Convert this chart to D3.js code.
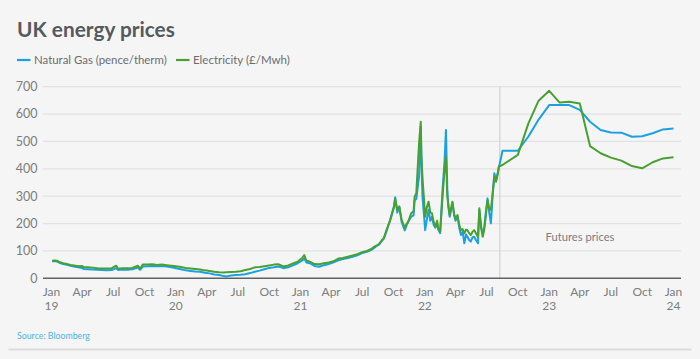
<!DOCTYPE html>
<html>
<head>
<meta charset="utf-8">
<script src="https://cdn.jsdelivr.net/npm/d3@7"></script>
<style>
  html, body { margin: 0; padding: 0; background: #f5f5f5; }
  svg { display: block; }
  text { font-family: Lato, "Open Sans", sans-serif; }
</style>
</head>
<body>
<svg id="chart" width="700" height="359"></svg>
<script>
// ---------- DATA ----------
const histDates = [
  "2019-01-03","2019-01-10","2019-01-17","2019-01-24","2019-02-04","2019-02-15","2019-02-26","2019-03-08","2019-03-20","2019-04-01",
  "2019-04-05","2019-04-18","2019-05-02","2019-05-16","2019-05-30","2019-06-13","2019-06-27","2019-07-10","2019-07-16","2019-07-29",
  "2019-08-12","2019-08-26","2019-09-12","2019-09-18","2019-09-26","2019-10-10","2019-10-24","2019-11-07","2019-11-21","2019-12-05",
  "2019-12-19","2020-01-02","2020-01-16","2020-01-30","2020-02-13","2020-02-27","2020-03-12","2020-03-26","2020-04-09","2020-04-23",
  "2020-05-07","2020-05-21","2020-05-28","2020-06-11","2020-06-25","2020-07-09","2020-07-23","2020-08-06","2020-08-20","2020-09-03",
  "2020-09-17","2020-10-01","2020-10-15","2020-10-29","2020-11-12","2020-11-26","2020-12-10","2020-12-24","2021-01-06","2021-01-12",
  "2021-01-18","2021-01-28","2021-02-11","2021-02-25","2021-03-11","2021-03-25","2021-04-08","2021-04-22","2021-05-06","2021-05-20",
  "2021-06-03","2021-06-17","2021-07-01","2021-07-15","2021-07-29","2021-08-06","2021-08-13","2021-08-20","2021-08-27","2021-09-03",
  "2021-09-10","2021-09-15","2021-09-21","2021-09-27","2021-10-02","2021-10-06","2021-10-12","2021-10-18","2021-10-25","2021-11-03",
  "2021-11-09","2021-11-13","2021-11-22","2021-11-29","2021-12-02","2021-12-07","2021-12-15","2021-12-20","2021-12-22","2021-12-25",
  "2022-01-02","2022-01-07","2022-01-12","2022-01-17","2022-01-22","2022-01-27","2022-02-01","2022-02-06","2022-02-10","2022-02-15",
  "2022-02-22","2022-02-28","2022-03-04","2022-03-08","2022-03-11","2022-03-15","2022-03-19","2022-03-23","2022-03-28","2022-04-01",
  "2022-04-07","2022-04-12","2022-04-17","2022-04-22","2022-04-27","2022-05-02","2022-05-06","2022-05-11","2022-05-16","2022-05-21",
  "2022-05-26","2022-05-31","2022-06-06","2022-06-10","2022-06-15","2022-06-20","2022-06-24","2022-06-28","2022-07-04","2022-07-09",
  "2022-07-14","2022-07-19","2022-07-24","2022-07-29","2022-08-03","2022-08-06"
];
const histGas = [
  62,63,61,57,52,49,46,43,40,38,
  34,33,32,31,30,29,30,37,30,32,
  31,33,39,31,43,44,45,44,45,43,
  40,37,33,29,27,25,24,20,18,14,
  12,8,7,10,12,13,15,19,24,28,
  33,38,40,43,37,40,47,55,65,73,
  58,55,45,42,48,52,58,66,70,74,
  79,84,92,97,104,112,118,124,135,146,
  170,189,213,240,262,296,240,262,205,175,
  195,207,225,230,285,290,371,555,420,300,
  176,215,250,210,225,195,185,200,176,165,
  323,430,542,323,260,225,250,275,230,210,
  225,185,158,170,128,160,152,140,134,150,
  152,140,128,250,190,164,180,230,292,240,
  201,300,384,359,385,402
];
const histElec = [
  64,65,64,60,55,52,49,47,44,45,
  41,40,39,37,36,36,37,46,35,37,
  37,38,46,35,50,50,51,49,50,48,
  46,44,41,38,36,34,32,29,27,24,
  22,21,22,23,24,26,30,34,40,41,
  44,47,50,51,43,47,54,61,74,85,
  65,61,52,51,55,58,62,72,74,79,
  83,88,95,100,108,116,120,126,138,148,
  175,192,210,236,258,290,250,262,213,185,
  200,205,238,245,298,311,493,572,450,371,
  225,260,280,240,238,205,189,210,180,170,
  298,400,444,298,270,231,255,280,235,219,
  231,195,176,180,164,178,176,165,158,170,
  176,165,152,256,185,152,175,215,286,255,
  250,310,371,353,380,408
];
const futDates = [
  "2022-08-17","2022-10-01","2022-11-01","2022-12-01","2023-01-01","2023-02-01","2023-03-01","2023-04-01","2023-05-01",
  "2023-06-01","2023-07-01","2023-08-01","2023-09-01","2023-10-01","2023-11-01","2023-12-01","2024-01-01"
];
const futGas  = [466,466,518,580,633,633,633,615,572,542,533,532,517,519,530,544,547];
const futElec = [414,451,566,649,685,642,645,639,483,457,441,430,410,402,424,438,442];

const futuresStart = "2022-08-09";
const yTicks = [0,100,200,300,400,500,600,700];
const monthNames = ["Jan","Apr","Jul","Oct"];
const seriesNames = ["Natural Gas (pence/therm)", "Electricity (\u00a3/Mwh)"];
const seriesColors = ["#1ba1e2", "#47a032"];

// ---------- BUILD ----------
const parse = d3.utcParse("%Y-%m-%d");
const allDates = histDates.concat(futDates).map(parse);
const gasSeries = histGas.concat(futGas).map((v,i) => ({d: allDates[i], v}));
const elecSeries = histElec.concat(futElec).map((v,i) => ({d: allDates[i], v}));

const svg = d3.select("#chart");
const x = d3.scaleUtc().domain([parse("2019-01-01"), parse("2024-01-01")]).range([51.5, 673.5]);
const y = d3.scaleLinear().domain([0, 700]).range([278.3, 86.7]);
const gridX0 = 43, gridX1 = 681;

// fit a text's font size so that it spans a target width
function fit(sel, target, base) {
  sel.attr("font-size", base);
  const w = sel.node().getComputedTextLength();
  if (w > 0) sel.attr("font-size", base * target / w);
  return sel;
}

// title
fit(svg.append("text").attr("x", 17).attr("y", 36.5)
  .attr("font-weight", 700).attr("fill", "#555a5f")
  .text("UK energy prices"), 158, 19);

// legend
const legX = [17, 176];
const legW = [133, 97];
seriesNames.forEach((n, i) => {
  svg.append("line").attr("x1", legX[i]).attr("x2", legX[i] + 13.5)
    .attr("y1", 60).attr("y2", 60).attr("stroke", seriesColors[i]).attr("stroke-width", 2.2);
  fit(svg.append("text").attr("x", legX[i] + 17).attr("y", 64.3)
    .attr("fill", "#6a6d70").text(n), legW[i], 12);
});

// gridlines + y labels
const gy = svg.append("g");
yTicks.forEach(t => {
  if (t > 0) {
    gy.append("line").attr("x1", gridX0).attr("x2", gridX1)
      .attr("y1", y(t)).attr("y2", y(t)).attr("stroke", "#e2e2e2").attr("stroke-width", 1.3);
  }
  gy.append("text").attr("x", 37.5).attr("y", y(t) + 4.4).attr("text-anchor", "end")
    .attr("font-size", 12.5).attr("fill", "#7a7d80").text(t);
});

// futures divider
svg.append("line").attr("x1", x(parse(futuresStart))).attr("x2", x(parse(futuresStart)))
  .attr("y1", y(700)).attr("y2", y(0)).attr("stroke", "#d4d4d4").attr("stroke-width", 1.3);
fit(svg.append("text").attr("x", 580).attr("y", 241).attr("text-anchor", "middle")
  .attr("fill", "#7a7d80").text("Futures prices"), 69, 12);

// lines
const line = d3.line().x(p => x(p.d)).y(p => y(p.v));
[gasSeries, elecSeries].forEach((s, i) => {
  svg.append("path").datum(s).attr("d", line).attr("fill", "none")
    .attr("stroke", seriesColors[i]).attr("stroke-width", 2).attr("stroke-linejoin", "round");
});

// baseline
svg.append("line").attr("x1", gridX0).attr("x2", gridX1).attr("y1", y(0)).attr("y2", y(0))
  .attr("stroke", "#5f6265").attr("stroke-width", 1.5);

// x labels
const xTicks = d3.utcMonth.every(3).range(parse("2019-01-01"), parse("2024-01-02"));
xTicks.forEach(t => {
  const m = t.getUTCMonth();
  svg.append("text").attr("x", x(t)).attr("y", 296).attr("text-anchor", "middle")
    .attr("font-size", 12).attr("fill", "#7a7d80").text(monthNames[m / 3]);
  if (m === 0) {
    svg.append("text").attr("x", x(t)).attr("y", 310).attr("text-anchor", "middle")
      .attr("font-size", 12).attr("fill", "#7a7d80").text(String(t.getUTCFullYear()).slice(2));
  }
});

// source + rule
fit(svg.append("text").attr("x", 17).attr("y", 339)
  .attr("fill", "#4db3e8").text("Source: Bloomberg"), 73, 10);
svg.append("line").attr("x1", 8.5).attr("x2", 691.5).attr("y1", 349.5).attr("y2", 349.5)
  .attr("stroke", "#dcdcdc").attr("stroke-width", 2);
</script>
</body>
</html>
